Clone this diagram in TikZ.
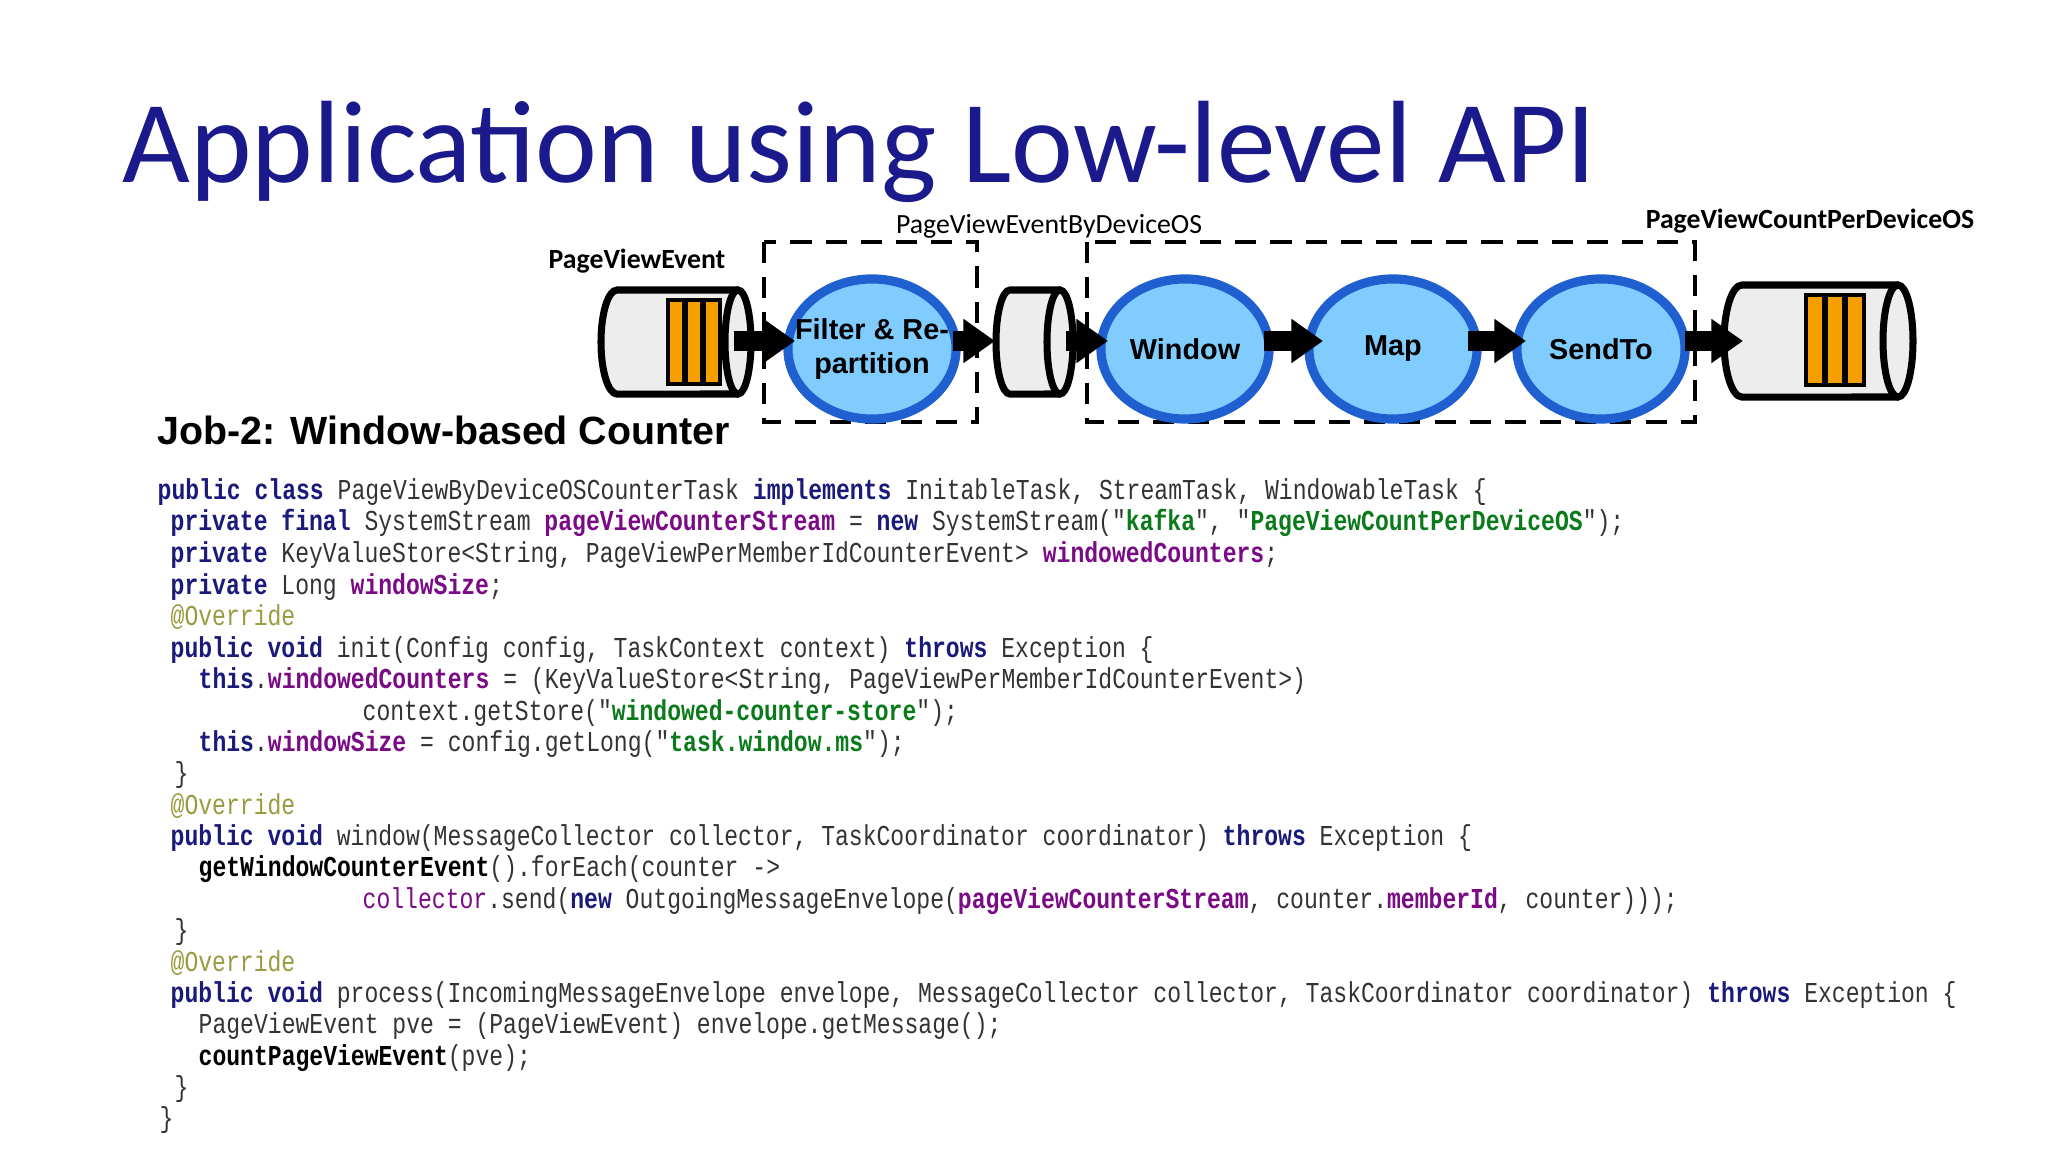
\documentclass[tikz,border=0pt]{standalone}
\usepackage{fontspec}
\usetikzlibrary{shapes.geometric,arrows.meta}
\newfontfamily\titlefont{Carlito}
\newfontfamily\armo{Liberation Sans}
\newfontfamily\codefont[FakeStretch=0.8]{Liberation Mono}
\definecolor{navy}{HTML}{1A1A8C}
\definecolor{kwc}{HTML}{1A1A7A}
\definecolor{fdc}{HTML}{7A0A85}
\definecolor{stc}{HTML}{0A7A1A}
\definecolor{anc}{HTML}{9A9A40}
\definecolor{txc}{HTML}{333333}
\definecolor{bubf}{HTML}{80CCFF}
\definecolor{bubd}{HTML}{1F5FD0}
\definecolor{cylf}{HTML}{EDEDED}
\definecolor{orng}{HTML}{F5A000}
\newcommand{\kw}[1]{\textcolor{kwc}{\bfseries #1}}
\newcommand{\fd}[1]{\textcolor{fdc}{\bfseries #1}}
\newcommand{\st}[1]{\textcolor{stc}{\bfseries #1}}
\newcommand{\bk}[1]{\textcolor{black}{\bfseries #1}}
\tikzset{
 codeline/.style={anchor=base west,inner sep=0pt,font=\codefont\fontsize{8.2}{9}\selectfont,text=txc},
 bubble/.style={ellipse,fill=bubf,draw=bubd,line width=2.6pt,minimum width=1.68cm,minimum height=1.40cm,inner sep=0pt,align=center,font=\armo\bfseries\fontsize{8.2}{9.6}\selectfont},
 blk/.style={line width=5.5pt,-{Triangle[length=9pt,width=12pt]}},
 dbox/.style={line width=1.4pt,dash pattern=on 6pt off 4pt},
 cyl/.style={fill=cylf,draw=black,line width=2pt},
 bar/.style={fill=orng,draw=black,line width=1pt},
 lbl/.style={inner sep=0pt}
}
\begin{document}
\begin{tikzpicture}[x=0.01cm,y=-0.01cm]
\useasboundingbox (0,0) rectangle (2048,1152);
\fill[white] (0,0) rectangle (2048,1152);
% title
\node[lbl,anchor=base west,text=navy,font=\titlefont\fontsize{33.3}{40}\selectfont] (title) at (122,183) {Application using Low-level API};
% cylinders
\fill[cylf,draw=black,line width=2pt] (738,290) -- (617,290) arc[start angle=90,end angle=270,x radius=0.16cm,y radius=0.52cm] -- (738,394);
\draw[cyl] (738,342) ellipse [x radius=0.13cm,y radius=0.52cm];
\foreach \xx in {668,686,704}{\draw[bar] (\xx,300) rectangle +(16,84);}
\fill[cylf,draw=black,line width=2pt] (1060,290) -- (1010,290) arc[start angle=90,end angle=270,x radius=0.14cm,y radius=0.52cm] -- (1060,394);
\draw[cyl] (1060,342) ellipse [x radius=0.13cm,y radius=0.52cm];
\fill[cylf,draw=black,line width=2pt] (1898,285) -- (1742,285) arc[start angle=90,end angle=270,x radius=0.18cm,y radius=0.56cm] -- (1898,397);
\draw[cyl] (1898,341) ellipse [x radius=0.15cm,y radius=0.56cm];
\foreach \xx in {1806,1826,1846}{\draw[bar] (\xx,295) rectangle +(18,90);}
\coordinate (c1) at (734,341);
\coordinate (c2o) at (995,341);
\coordinate (c2i) at (1066,341);
\coordinate (c3) at (1743,341);
% dashed boxes
\draw[dbox] (764,242) rectangle (977,422);
\draw[dbox] (1087,242) rectangle (1695,422);
% bubbles
\node[bubble,inner xsep=-0.25cm] (f) at (872,349) {Filter \& Re-\\partition};
\node[bubble] (w) at (1185,349) {Window};
\node[bubble] (m) at (1393,349) {Map};
\node[bubble] (s) at (1601,349) {SendTo};
% arrows
\draw[blk] (c1) -- (795,341);
\draw[blk] (953,341) -- (c2o);
\draw[blk] (c2i) -- (1108,341);
\draw[blk] (1264,341) -- (1323,341);
\draw[blk] (1468,341) -- (1526,341);
\draw[blk] (1685,341) -- (c3);
% labels
\node[lbl,font=\titlefont\bfseries\fontsize{7.9}{9}\selectfont] (l1) at (637,261) {PageViewEvent};
\node[lbl,font=\titlefont\fontsize{7.9}{9}\selectfont] (l2) at (1049,226) {PageViewEventByDeviceOS};
\node[lbl,font=\titlefont\bfseries\fontsize{7.9}{9}\selectfont] (l3) at (1810,221) {PageViewCountPerDeviceOS};
\node[lbl,anchor=base west,font=\armo\bfseries\fontsize{11.2}{13}\selectfont] (job) at (157,445) {Job-2: Window-based Counter};
% code
\node[codeline] (k1) at (157,500) {\kw{public class} PageViewByDeviceOSCounterTask \kw{implements} InitableTask, StreamTask, WindowableTask \{};
\node[codeline] (k2) at (170,531) {\kw{private final} SystemStream \fd{pageViewCounterStream} = \kw{new} SystemStream("\st{kafka}", "\st{PageViewCountPerDeviceOS}");};
\node[codeline] (k3) at (170,563) {\kw{private} KeyValueStore<String, PageViewPerMemberIdCounterEvent> \fd{windowedCounters};};
\node[codeline] (k4) at (170,594) {\kw{private} Long \fd{windowSize};};
\node[codeline,text=anc] (k5) at (170,626) {@Override};
\node[codeline] (k6) at (170,657) {\kw{public void} init(Config config, TaskContext context) \kw{throws} Exception \{};
\node[codeline] (k7) at (198,688) {\kw{this}.\fd{windowedCounters} = (KeyValueStore<String, PageViewPerMemberIdCounterEvent>)};
\node[codeline] (k8) at (362,720) {context.getStore("\st{windowed-counter-store}");};
\node[codeline] (k9) at (198,751) {\kw{this}.\fd{windowSize} = config.getLong("\st{task.window.ms}");};
\node[codeline] (k10) at (174,782) {\}};
\node[codeline,text=anc] (k11) at (170,814) {@Override};
\node[codeline] (k12) at (170,845) {\kw{public void} window(MessageCollector collector, TaskCoordinator coordinator) \kw{throws} Exception \{};
\node[codeline] (k13) at (198,876) {\bk{getWindowCounterEvent}().forEach(counter ->};
\node[codeline] (k14) at (362,908) {\textcolor{fdc}{collector}.send(\kw{new} OutgoingMessageEnvelope(\fd{pageViewCounterStream}, counter.\fd{memberId}, counter)));};
\node[codeline] (k15) at (174,939) {\}};
\node[codeline,text=anc] (k16) at (170,971) {@Override};
\node[codeline] (k17) at (170,1002) {\kw{public void} process(IncomingMessageEnvelope envelope, MessageCollector collector, TaskCoordinator coordinator) \kw{throws} Exception \{};
\node[codeline] (k18) at (198,1033) {PageViewEvent pve = (PageViewEvent) envelope.getMessage();};
\node[codeline] (k19) at (198,1065) {\bk{countPageViewEvent}(pve);};
\node[codeline] (k20) at (174,1096) {\}};
\node[codeline] (k21) at (159,1127) {\}};
\end{tikzpicture}
\end{document}
